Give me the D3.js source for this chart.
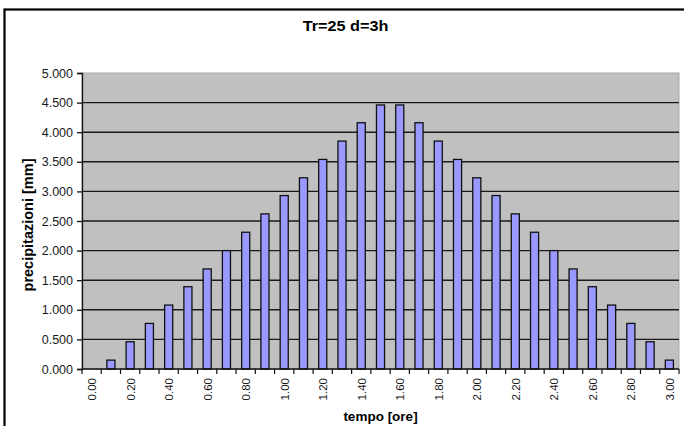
<!DOCTYPE html>
<html>
<head>
<meta charset="utf-8">
<script src="https://cdn.jsdelivr.net/npm/d3@7"></script>
<style>
  body { margin: 0; background: #fff; }
  svg { display: block; font-family: 'Liberation Sans', Arial, sans-serif; }
  .grid line { stroke: #1a1a1a; stroke-width: 1.4; }
  .tick text { fill: #1a1a1a; font-size: 12.5px; }
</style>
</head>
<body>
<script>
const tempo = ['0.00','0.10','0.20','0.30','0.40','0.50','0.60','0.70','0.80','0.90',
               '1.00','1.10','1.20','1.30','1.40','1.50','1.60','1.70','1.80','1.90',
               '2.00','2.10','2.20','2.30','2.40','2.50','2.60','2.70','2.80','2.90','3.00']
const precipitazioni = [0, 0.15, 0.46, 0.77, 1.08, 1.39, 1.69, 2.00, 2.31, 2.62,
                        2.93, 3.23, 3.54, 3.85, 4.16, 4.46, 4.46, 4.16, 3.85, 3.54,
                        3.23, 2.93, 2.62, 2.31, 2.00, 1.69, 1.39, 1.08, 0.77, 0.46, 0.15]
const yTicks = [0, 0.5, 1, 1.5, 2, 2.5, 3, 3.5, 4, 4.5, 5]
const xLabels = tempo.filter((d, i) => i % 2 === 0)

const w = 684
const h = 426
const m = { top: 73, right: 5, bottom: 57, left: 82 }

const svg = d3.select('body')
  .append('svg')
  .attr('width', w)
  .attr('height', h)

// outer chart frame (runs off the right and bottom edge)
svg.append('rect')
  .attr('x', 4.5)
  .attr('y', 9.5)
  .attr('width', w + 10)
  .attr('height', h + 10)
  .attr('fill', '#fff')
  .attr('stroke', '#000')
  .attr('stroke-width', 2.2)

const xScale = d3.scaleBand()
  .domain(tempo)
  .range([m.left, w - m.right])
  .paddingInner(0.58)
  .paddingOuter(0.29)

const yScale = d3.scaleLinear()
  .domain([0, 5])
  .range([h - m.bottom, m.top])

// plot background
svg.append('rect')
  .attr('x', m.left)
  .attr('y', m.top)
  .attr('width', w - m.right - m.left)
  .attr('height', h - m.bottom - m.top)
  .attr('fill', '#c0c0c0')
  .attr('stroke', '#a8a8a8')
  .attr('stroke-width', 1)

svg.append('g')
  .attr('class', 'grid')
  .selectAll('line')
  .data(yTicks.slice(1, -1))
  .enter()
  .append('line')
  .attr('x1', m.left)
  .attr('x2', w - m.right)
  .attr('y1', d => yScale(d))
  .attr('y2', d => yScale(d))

svg.selectAll('.bar')
  .data(precipitazioni)
  .enter()
  .append('rect')
  .attr('class', 'bar')
  .attr('x', (d, i) => xScale(tempo[i]))
  .attr('y', d => yScale(d))
  .attr('width', xScale.bandwidth())
  .attr('height', d => yScale(0) - yScale(d))
  .attr('fill', d => d > 0 ? '#9999ff' : 'none')
  .attr('stroke', d => d > 0 ? '#111' : 'none')
  .attr('stroke-width', 1.3)

const yAxis = d3.axisLeft(yScale)
  .tickValues(yTicks)
  .tickSize(5)
  .tickPadding(4)
  .tickFormat(d3.format('.3f'))

svg.append('g')
  .attr('class', 'y-axis')
  .attr('transform', 'translate(' + m.left + ',0)')
  .call(yAxis)
  .call(g => g.selectAll('line, path').attr('stroke', '#111').attr('stroke-width', 1.3))

// x axis: ticks on the band boundaries, labels on every other category
const step = xScale.step()
const xAxisG = svg.append('g')
  .attr('class', 'x-axis')
  .attr('transform', 'translate(0,' + yScale(0) + ')')

xAxisG.append('line')
  .attr('x1', m.left)
  .attr('x2', w - m.right)
  .attr('stroke', '#111')
  .attr('stroke-width', 1.3)

xAxisG.selectAll('.xtick')
  .data(d3.range(tempo.length + 1))
  .enter()
  .append('line')
  .attr('x1', i => m.left + i * step)
  .attr('x2', i => m.left + i * step)
  .attr('y2', 5)
  .attr('stroke', '#111')
  .attr('stroke-width', 1.2)

xAxisG.selectAll('.xlabel')
  .data(xLabels)
  .enter()
  .append('text')
  .attr('transform', d => 'translate(' + (xScale(d) + xScale.bandwidth() / 2 + 4.5) + ',9) rotate(-90)')
  .attr('text-anchor', 'end')
  .attr('fill', '#1a1a1a')
  .style('font-size', '11.5px')
  .text(d => d)

svg.append('text')
  .attr('transform', 'translate(345.5,31) scale(1.16,1)')
  .attr('text-anchor', 'middle')
  .style('font-size', '14px')
  .style('font-weight', 'bold')
  .text('Tr=25 d=3h')

svg.append('text')
  .attr('x', (m.left + w - m.right) / 2)
  .attr('y', 421)
  .attr('text-anchor', 'middle')
  .style('font-size', '13.5px')
  .style('font-weight', 'bold')
  .text('tempo [ore]')

svg.append('text')
  .attr('transform', 'translate(33,225) rotate(-90)')
  .attr('text-anchor', 'middle')
  .style('font-size', '14.5px')
  .style('font-weight', 'bold')
  .text('precipitazioni [mm]')
</script>
</body>
</html>
